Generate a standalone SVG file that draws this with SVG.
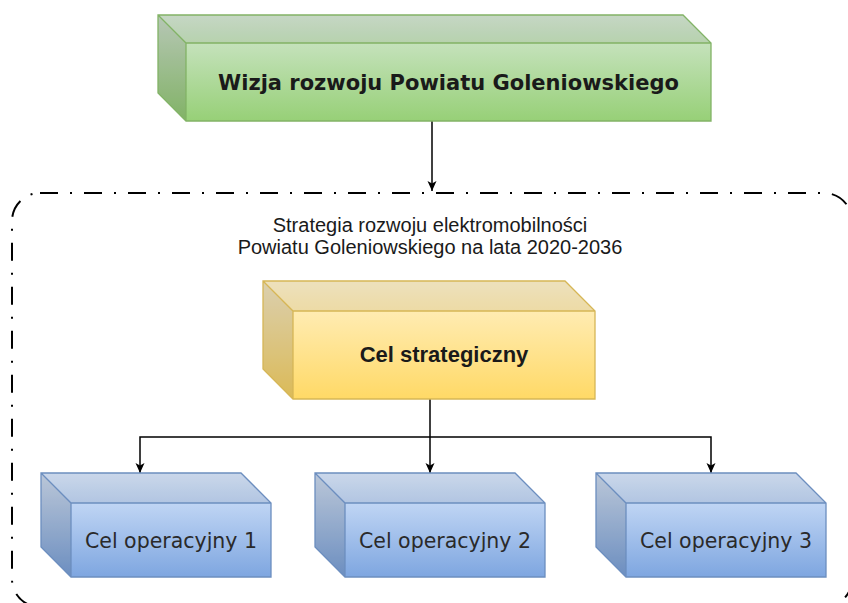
<svg xmlns="http://www.w3.org/2000/svg" width="848" height="603" viewBox="0 0 848 603">
  <defs>
    <linearGradient id="gGreen" x1="0" y1="0" x2="0" y2="1">
      <stop offset="0" stop-color="#d5e8d4"/>
      <stop offset="1" stop-color="#97d077"/>
    </linearGradient>
    <linearGradient id="gYellow" x1="0" y1="0" x2="0" y2="1">
      <stop offset="0" stop-color="#fff2cc"/>
      <stop offset="1" stop-color="#ffd966"/>
    </linearGradient>
    <linearGradient id="gBlue" x1="0" y1="0" x2="0" y2="1">
      <stop offset="0" stop-color="#dae8fc"/>
      <stop offset="1" stop-color="#7ea6e0"/>
    </linearGradient>
    <marker id="arrow" viewBox="0 0 10 10" refX="10" refY="5" markerWidth="10" markerHeight="10" markerUnits="userSpaceOnUse" orient="auto">
      <path d="M0,0.5 L10,5 L0,9.5 L2.5,5 Z" fill="#000"/>
    </marker>
  </defs>
  <style>
    .top { fill: #000; fill-opacity: 0.07; }
    .side { fill: #000; fill-opacity: 0.14; }
    .edge { fill: none; stroke-linejoin: miter; }
    .green .edge { stroke: #82b366; stroke-width: 1.3; }
    .yellow .edge { stroke: #d6b656; stroke-width: 1.3; }
    .blue .edge { stroke: #6c8ebf; stroke-width: 1.3; }
    .conn { fill: none; stroke: #000; stroke-width: 1.5; }
    .t-green { font-family: "DejaVu Sans", Verdana, sans-serif; font-weight: bold; font-size: 21px; fill: #1a1a1a; text-anchor: middle; }
    .t-yellow { font-family: "Liberation Sans", Arial, sans-serif; font-weight: bold; font-size: 22px; fill: #1a1a1a; text-anchor: middle; }
    .t-blue { font-family: "DejaVu Sans", Verdana, sans-serif; font-size: 20.5px; fill: #2a2a2a; text-anchor: middle; }
    .t-title { font-family: "Liberation Sans", Arial, sans-serif; font-size: 20px; fill: #1a1a1a; text-anchor: middle; }
  </style>

  <g id="container">
    <rect x="12" y="193" width="840" height="414" rx="28" ry="28" fill="none" stroke="#000" stroke-width="2" stroke-dasharray="18 12 2 12"/>
    <text class="t-title" x="430" y="232">Strategia rozwoju elektromobilności</text>
    <text class="t-title" x="430" y="254">Powiatu Goleniowskiego na lata 2020-2036</text>
  </g>

  <g id="connectors">
    <line class="conn" x1="432" y1="121" x2="432" y2="191" marker-end="url(#arrow)"/>
    <line class="conn" x1="430" y1="399" x2="430" y2="473" marker-end="url(#arrow)"/>
    <polyline class="conn" points="430,437 140,437 140,473" marker-end="url(#arrow)"/>
    <polyline class="conn" points="430,437 711,437 711,473" marker-end="url(#arrow)"/>
  </g>

  <g id="wizja" class="green">
    <path d="M158,15 L683,15 L711,43 L711,121 L186,121 L158,93 Z" fill="url(#gGreen)"/>
    <path class="top" d="M158,15 L683,15 L711,43 L186,43 Z"/>
    <path class="side" d="M158,15 L186,43 L186,121 L158,93 Z"/>
    <path class="edge" d="M158,15 L683,15 L711,43 L711,121 L186,121 L158,93 Z M158,15 L186,43 L711,43 M186,43 L186,121"/>
    <text class="t-green" x="448.5" y="90">Wizja rozwoju Powiatu Goleniowskiego</text>
  </g>

  <g id="cel-strategiczny" class="yellow">
    <path d="M263,281 L565,281 L595,311 L595,399 L293,399 L263,369 Z" fill="url(#gYellow)"/>
    <path class="top" d="M263,281 L565,281 L595,311 L293,311 Z"/>
    <path class="side" d="M263,281 L293,311 L293,399 L263,369 Z"/>
    <path class="edge" d="M263,281 L565,281 L595,311 L595,399 L293,399 L263,369 Z M263,281 L293,311 L595,311 M293,311 L293,399"/>
    <text class="t-yellow" x="444" y="362">Cel strategiczny</text>
  </g>

  <g id="cel-operacyjny-1" class="blue">
    <path d="M41,473 L241,473 L271,503 L271,577 L71,577 L41,547 Z" fill="url(#gBlue)"/>
    <path class="top" d="M41,473 L241,473 L271,503 L71,503 Z"/>
    <path class="side" d="M41,473 L71,503 L71,577 L41,547 Z"/>
    <path class="edge" d="M41,473 L241,473 L271,503 L271,577 L71,577 L41,547 Z M41,473 L71,503 L271,503 M71,503 L71,577"/>
    <text class="t-blue" x="171" y="548">Cel operacyjny 1</text>
  </g>

  <g id="cel-operacyjny-2" class="blue">
    <path d="M315,473 L515,473 L545,503 L545,577 L345,577 L315,547 Z" fill="url(#gBlue)"/>
    <path class="top" d="M315,473 L515,473 L545,503 L345,503 Z"/>
    <path class="side" d="M315,473 L345,503 L345,577 L315,547 Z"/>
    <path class="edge" d="M315,473 L515,473 L545,503 L545,577 L345,577 L315,547 Z M315,473 L345,503 L545,503 M345,503 L345,577"/>
    <text class="t-blue" x="445" y="548">Cel operacyjny 2</text>
  </g>

  <g id="cel-operacyjny-3" class="blue">
    <path d="M596,473 L796,473 L826,503 L826,577 L626,577 L596,547 Z" fill="url(#gBlue)"/>
    <path class="top" d="M596,473 L796,473 L826,503 L626,503 Z"/>
    <path class="side" d="M596,473 L626,503 L626,577 L596,547 Z"/>
    <path class="edge" d="M596,473 L796,473 L826,503 L826,577 L626,577 L596,547 Z M596,473 L626,503 L826,503 M626,503 L626,577"/>
    <text class="t-blue" x="726" y="548">Cel operacyjny 3</text>
  </g>
</svg>
